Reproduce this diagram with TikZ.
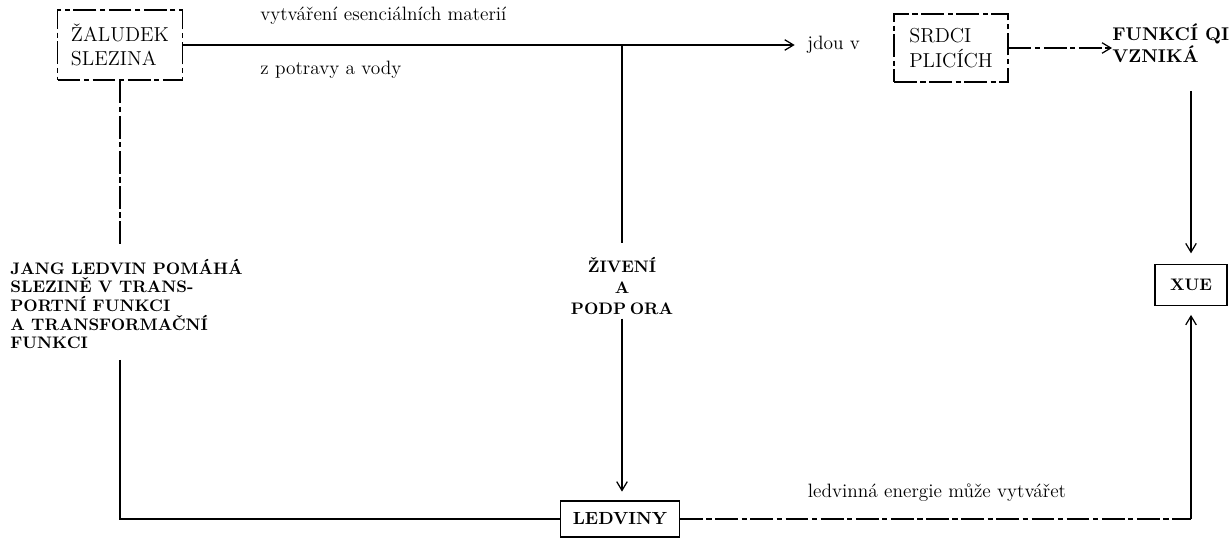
\documentclass[tikz,border=0pt]{standalone}
\usepackage{fontspec}
\usepackage{tikz}
\usetikzlibrary{arrows.meta}

\begin{document}
\begin{tikzpicture}[x=0.02cm,y=-0.02cm,
    wire/.style={line width=0.7pt},
    worn/.style={dash pattern=on 13pt off 2pt on 3pt off 2pt},
    tip/.style={-{Straight Barb[length=5pt,width=6pt]}},
    note/.style={inner sep=0pt,font=\fontsize{11}{12}\selectfont},
    caps/.style={inner sep=0pt,align=left,font=\fontsize{9.5}{10.6}\selectfont\bfseries},
    organ/.style={draw,line width=0.7pt,align=left,font=\fontsize{11.5}{14}\selectfont}]
    \useasboundingbox (0,0) rectangle (1230,538);

    % Organs
    \node[organ,worn,minimum width=2.5cm,minimum height=1.4cm] (zaludek) at (120,45) {ŽALUDEK\\SLEZINA};
    \node[organ,worn,minimum width=2.28cm,minimum height=1.36cm] (srdce) at (951,48) {SRDCI\\PLICÍCH};
    \node[organ,font=\fontsize{9.5}{11}\selectfont\bfseries,minimum width=1.44cm,minimum height=0.82cm] (xue) at (1191,285) {XUE};
    \node[organ,font=\fontsize{10}{12}\selectfont\bfseries,minimum width=2.38cm,minimum height=0.72cm] (ledviny) at (620,519) {LEDVINY};

    % Labels
    \node[note,anchor=west] (vytvareni) at (260,16) {vytváření esenciálních materií};
    \node[note,anchor=west] (potrava) at (260,70) {z potravy a vody};
    \node[note,anchor=west] (jdou) at (807,45) {jdou v};
    \node[caps,anchor=west,font=\fontsize{10.5}{10.6}\selectfont\bfseries] (funkce) at (1112,43) {FUNKCÍ QI\\VZNIKÁ};
    \node[caps,anchor=west] (jang) at (10,304) {JANG LEDVIN POMÁHÁ\\SLEZINĚ V TRANS-\\PORTNÍ FUNKCI\\A TRANSFORMAČNÍ\\FUNKCI};
    \node[caps,align=center,font=\fontsize{9.5}{12}\selectfont\bfseries] (ziveni) at (622,286) {ŽIVENÍ\\A\\PODP\kern2pt ORA};
    \node[note] (energie) at (937,493) {ledvinná energie může vytvářet};

    % Top row
    \draw[wire,tip,shorten >=7pt] (zaludek.east) -- (jdou.west);
    \draw[wire,tip,worn] (srdce.east) -- (srdce.east -| funkce.west);
    \draw[wire,shorten >=8pt] (ziveni.north |- zaludek.east) -- (ziveni.north);
    \draw[wire,tip,shorten <=2pt,shorten >=5pt] (ziveni.south) -- (ziveni.south |- ledviny.north);

    % Left side
    \draw[wire,worn,shorten >=8pt] (zaludek.south) -- (zaludek.south |- jang.north);
    \draw[wire,shorten <=6pt] (zaludek.south |- jang.south) -- (zaludek.south |- ledviny.west) -- (ledviny.west);

    % Right side
    \draw[wire,tip,shorten <=16pt,shorten >=6pt] (xue.north |- funkce.south) -- (xue.north);
    \draw[wire,worn] (ledviny.east) -- (ledviny.east -| xue.south);
    \draw[wire,tip,shorten >=5pt] (ledviny.east -| xue.south) -- (xue.south);
\end{tikzpicture}
\end{document}
